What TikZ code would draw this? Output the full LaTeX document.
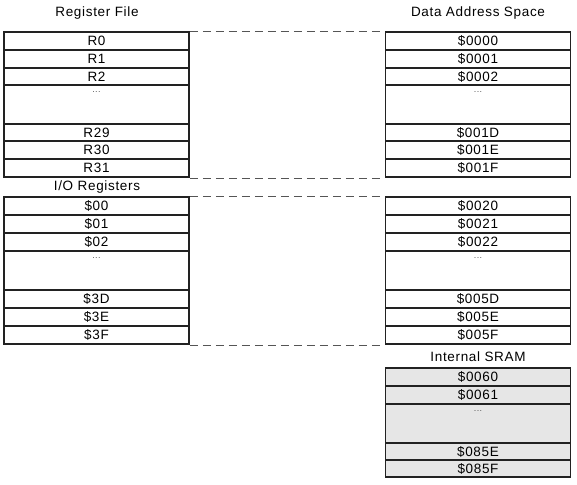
\documentclass[tikz,border=0pt]{standalone}
\usepackage{fontspec}
\setmainfont{Liberation Sans}[LetterSpace=5]
\definecolor{linegray}{HTML}{222222}
\definecolor{dashgray}{HTML}{555555}
\definecolor{sramfill}{HTML}{E6E6E6}
\tikzset{
  cell/.style={draw=linegray, line width=1.9pt, rectangle, inner sep=0pt,
    minimum width=185pt, minimum height=#1, font=\fontsize{13.5}{13.5}\selectfont},
  cell/.default=18pt,
  dotcell/.style={cell=39pt, label={[anchor=north, yshift=-7pt, inner sep=0pt,
    font=\fontsize{9}{9}\selectfont, text=dashgray]north:...}},
  sram/.style={fill=sramfill},
  heading/.style={font=\fontsize{13.5}{13.5}\selectfont, inner sep=0pt},
  maplink/.style={draw=dashgray, line width=0.9pt, dash pattern=on 8pt off 5pt}
}
\begin{document}
\begin{tikzpicture}[x=1pt, y=-1pt]
  \useasboundingbox (0,0) rectangle (577,484);

  % Headings
  \node[heading] (rfhead) at (97,13) {Register File};
  \node[heading] (dahead) at (478,13) {Data Address Space};
  \node[heading] (iohead) at (97,187) {I/O Registers};
  \node[heading] (srhead) at (478,357) {Internal SRAM};

  % Register file (left) and addresses $0000-$001F (right)
  \node[cell] (r0) at (96.5,41) {R0};
  \node[cell] (r1) at (96.5,59) {R1};
  \node[cell=17pt] (r2) at (96.5,76.5) {R2};
  \node[dotcell] (rdots) at (96.5,104.5) {};
  \node[cell=17pt] (r29) at (96.5,132.5) {R29};
  \node[cell] (r30) at (96.5,150) {R30};
  \node[cell] (r31) at (96.5,168) {R31};

  \node[cell] (a0000) at (478,41) {\$0000};
  \node[cell] (a0001) at (478,59) {\$0001};
  \node[cell=17pt] (a0002) at (478,76.5) {\$0002};
  \node[dotcell] (adots) at (478,104.5) {};
  \node[cell=17pt] (a001d) at (478,132.5) {\$001D};
  \node[cell] (a001e) at (478,150) {\$001E};
  \node[cell] (a001f) at (478,168) {\$001F};

  % I/O registers (left) and addresses $0020-$005F (right)
  \node[cell] (io00) at (96.5,206) {\$00};
  \node[cell] (io01) at (96.5,224) {\$01};
  \node[cell] (io02) at (96.5,242) {\$02};
  \node[dotcell] (iodots) at (96.5,270.5) {};
  \node[cell] (io3d) at (96.5,299) {\$3D};
  \node[cell] (io3e) at (96.5,317) {\$3E};
  \node[cell] (io3f) at (96.5,335) {\$3F};

  \node[cell] (a0020) at (478,206) {\$0020};
  \node[cell] (a0021) at (478,224) {\$0021};
  \node[cell] (a0022) at (478,242) {\$0022};
  \node[dotcell] (iadots) at (478,270.5) {};
  \node[cell] (a005d) at (478,299) {\$005D};
  \node[cell] (a005e) at (478,317) {\$005E};
  \node[cell] (a005f) at (478,335) {\$005F};

  % Internal SRAM
  \node[cell, sram] (a0060) at (478,377) {\$0060};
  \node[cell, sram] (a0061) at (478,395) {\$0061};
  \node[dotcell, sram] (sdots) at (478,423.5) {};
  \node[cell=17pt, sram] (a085e) at (478,451.5) {\$085E};
  \node[cell=17pt, sram] (a085f) at (478,468.5) {\$085F};

  % Dashed mapping lines
  \draw[maplink] (r0.north east) -- (a0000.north west);
  \draw[maplink] (r31.south east) -- (a001f.south west);
  \draw[maplink] (io00.north east) -- (a0020.north west);
  \draw[maplink] (io3f.south east) -- (a005f.south west);
\end{tikzpicture}
\end{document}
